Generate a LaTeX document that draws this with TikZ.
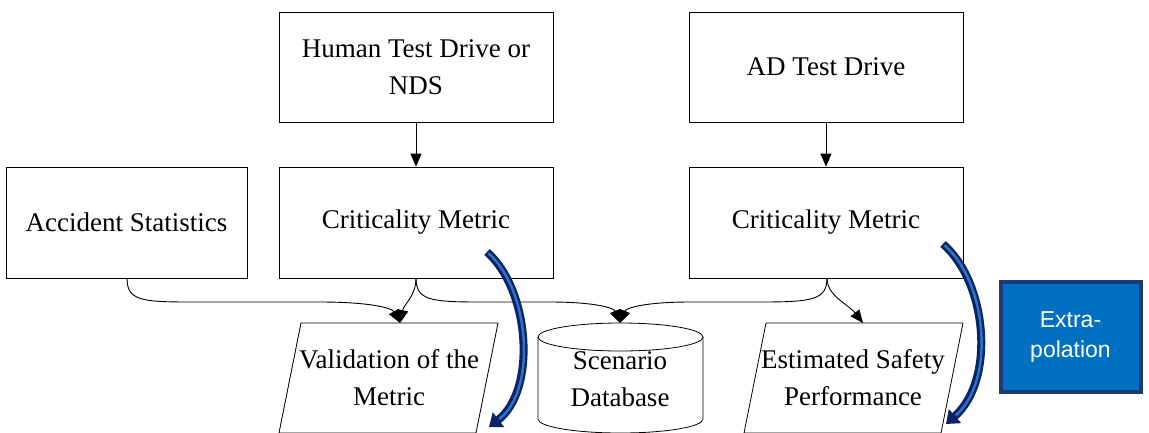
\documentclass[tikz,border=0pt]{standalone}
\usepackage{fontspec}
\setmainfont{Liberation Serif}
\newfontfamily\arialf{Liberation Sans}
\usetikzlibrary{arrows.meta}
\definecolor{navy}{HTML}{0A2466}
\definecolor{midblue}{HTML}{2E72C4}
\definecolor{extfill}{HTML}{0070C0}
\definecolor{extborder}{HTML}{1C3A78}
\begin{document}
\begin{tikzpicture}[x=1pt,y=-1pt,
  box/.style={draw, line width=0.8pt, minimum width=274pt, minimum height=110pt, align=center,
    font=\fontsize{27}{37}\selectfont, inner sep=0pt},
  plain/.style={align=center, font=\fontsize{27}{37}\selectfont, inner sep=0pt},
  shapeline/.style={draw, line width=0.8pt},
  conn/.style={line width=0.9pt, -{Triangle[length=13pt,width=11pt]}},
  bluearc/.style={navy, line width=8pt, -{Triangle[length=12pt,width=18pt]}},
  bluein/.style={midblue, line width=2.5pt, shorten >=13pt, shorten <=2pt},
  extbox/.style={draw=extborder, fill=extfill, line width=4pt, minimum width=140pt, minimum height=110pt,
    align=center, text=white, font=\arialf\fontsize{23}{30}\selectfont, inner sep=0pt}]
\useasboundingbox (0,0) rectangle (1149,432);
\clip (0,0) rectangle (1149,432);
\fill[white] (0,0) rectangle (1149,432);

% boxes
\node[box] (hum) at (416,67) {Human Test Drive or\\NDS};
\node[box] (ad) at (826,67) {AD Test Drive};
\node[box, minimum width=241pt, minimum height=111pt] (acc) at (126.5,222.5) {Accident Statistics};
\node[box, minimum height=111pt] (crit1) at (416,222.5) {Criticality Metric};
\node[box, minimum height=111pt] (crit2) at (826,222.5) {Criticality Metric};

% parallelograms
\draw[shapeline] (301,323) -- (498,323) -- (476,433) -- (279,433) -- cycle;
\node[plain] (val) at (389,378) {Validation of the\\Metric};
\coordinate (valtop) at (400,323);
\draw[shapeline] (766,323) -- (963,323) -- (941,433) -- (744,433) -- cycle;
\node[plain] (est) at (853,378) {Estimated Safety\\Performance};
\coordinate (esttop) at (863,323);

% cylinder
\draw[shapeline] (538,337) -- (538,419) arc[start angle=180, end angle=0, x radius=82.5, y radius=14] -- (703,337);
\draw[shapeline] (620.5,337) ellipse [x radius=82.5, y radius=14];
\node[plain] (db) at (620,379) {Scenario\\Database};
\coordinate (dbtop) at (620,323);

% extrapolation
\node[extbox] (ext) at (1070.5,337) {Extra-\\polation};

% vertical arrows
\draw[conn] (hum.south) -- (crit1.north);
\draw[conn] (ad.south) -- (crit2.north);

% curved connectors
\coordinate (a0) at (127,278);
\coordinate (c1) at (416,278);
\coordinate (c2) at (827,278);
\draw[conn] (a0) .. controls (127,300) and (140,302) .. (190,302) -- (320,302) .. controls (370,302) and (392,308) .. (valtop);
\draw[conn] (c1) .. controls (416,296) and (404,304) .. (valtop);
\draw[conn] (c1) .. controls (416,300) and (430,302) .. (480,302) -- (550,302) .. controls (595,302) and (614,308) .. (dbtop);
\draw[conn] (c2) .. controls (827,300) and (812,302) .. (760,302) -- (690,302) .. controls (645,302) and (626,308) .. (dbtop);
\draw[conn] (c2) .. controls (827,296) and (848,304) .. (esttop);

% blue curved arrows
\coordinate (b1s) at (487,252);
\coordinate (b1e) at (489,427);
\coordinate (b2s) at (943,244);
\coordinate (b2e) at (946,424);
\draw[bluearc] (b1s) .. controls (530,290) and (537,390) .. (b1e);
\draw[bluein] (b1s) .. controls (530,290) and (537,390) .. (b1e);
\draw[bluearc] (b2s) .. controls (987,282) and (996,380) .. (b2e);
\draw[bluein] (b2s) .. controls (987,282) and (996,380) .. (b2e);
\end{tikzpicture}
\end{document}
